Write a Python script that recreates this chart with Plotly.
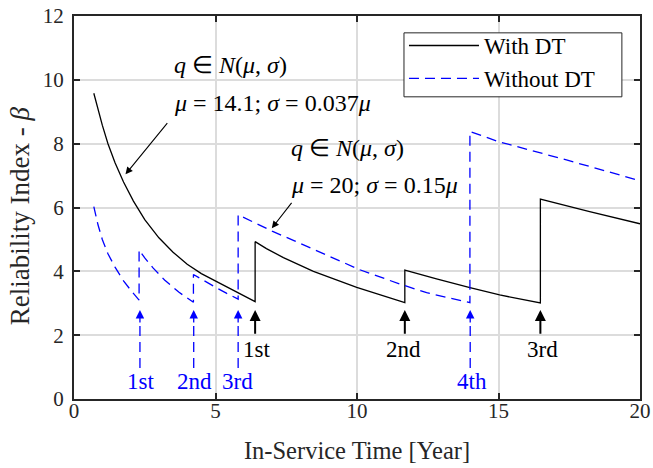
import plotly.graph_objects as go

# ---- data ----
with_dt_x = [0.70, 0.85, 1.00, 1.20, 1.45, 1.75, 2.10, 2.50, 3.00, 3.50, 4.00, 4.50, 5.00,
             5.50, 6.00, 6.40,
             6.40, 6.80, 7.40, 8.46, 9.99, 11.69,
             11.69, 12.81, 13.99, 15.04, 16.48,
             16.48, 18.22, 20.0]
with_dt_y = [9.58, 9.05, 8.58, 8.00, 7.40, 6.80, 6.20, 5.62, 5.05, 4.60, 4.22, 3.93, 3.70,
             3.45, 3.23, 3.05,
             4.93, 4.71, 4.43, 4.00, 3.50, 3.02,
             4.04, 3.76, 3.49, 3.26, 3.01,
             6.26, 5.87, 5.49]

without_dt_x = [0.70, 0.85, 1.00, 1.20, 1.45, 1.75, 2.05, 2.30,
                2.30, 2.50, 2.80, 3.20, 3.70, 4.22,
                4.22, 4.60, 5.00, 5.40, 5.80,
                5.80, 6.50, 7.00, 7.75, 8.93, 10.10, 11.52, 12.46, 13.99,
                13.99, 14.98, 17.40, 20.0]
without_dt_y = [6.03, 5.45, 5.00, 4.55, 4.13, 3.70, 3.36, 3.10,
                4.67, 4.42, 4.10, 3.73, 3.35, 3.03,
                3.90, 3.70, 3.50, 3.31, 3.13,
                5.77, 5.47, 5.26, 4.97, 4.50, 4.05, 3.60, 3.33, 3.02,
                8.38, 8.07, 7.49, 6.84]

# maintenance markers
dt_events_x = [6.40, 11.69, 16.48]
dt_labels = ["1st", "2nd", "3rd"]
dt_label_x = [6.45, 11.65, 16.56]
nodt_events_x = [2.33, 4.23, 5.80, 14.0]
nodt_labels = ["1st", "2nd", "3rd", "4th"]
nodt_label_x = [2.35, 4.25, 5.78, 14.08]

arrow_tip_y = 2.79
dt_arrow_tail_y = 2.0
dt_label_y = 1.54
nodt_shaft_bottom_y = 0.97
nodt_head_tail_y = 2.35
nodt_label_y = 0.55

x_ticks = [0, 5, 10, 15, 20]
y_ticks = [0, 2, 4, 6, 8, 10, 12]

FONT = "Liberation Serif"
INK = "#262626"
BLUE = "#0000ff"

fig = go.Figure()
fig.add_trace(go.Scatter(x=with_dt_x, y=with_dt_y, mode="lines", name="With DT",
                         line=dict(color="black", width=1.3)))
fig.add_trace(go.Scatter(x=without_dt_x, y=without_dt_y, mode="lines", name="Without DT",
                         line=dict(color=BLUE, width=1.3, dash="10px,6px")))

annotations = []
shapes = []
for xe, lab, lx in zip(dt_events_x, dt_labels, dt_label_x):
    annotations.append(dict(x=xe, y=arrow_tip_y, ax=xe, ay=dt_arrow_tail_y,
                            xref="x", yref="y", axref="x", ayref="y", text="",
                            showarrow=True, arrowhead=2, arrowsize=1.1, arrowwidth=2,
                            arrowcolor="black"))
    annotations.append(dict(x=lx, y=dt_label_y, xref="x", yref="y", text=lab,
                            showarrow=False, font=dict(family=FONT, size=23, color="black")))
for xe, lab, lx in zip(nodt_events_x, nodt_labels, nodt_label_x):
    shapes.append(dict(type="line", xref="x", yref="y", x0=xe, x1=xe,
                       y0=nodt_shaft_bottom_y, y1=nodt_head_tail_y,
                       line=dict(color=BLUE, width=1.3, dash="10px,6px")))
    annotations.append(dict(x=xe, y=arrow_tip_y, ax=xe, ay=nodt_head_tail_y,
                            xref="x", yref="y", axref="x", ayref="y", text="",
                            showarrow=True, arrowhead=2, arrowsize=1.3, arrowwidth=1.3,
                            arrowcolor=BLUE))
    annotations.append(dict(x=lx, y=nodt_label_y, xref="x", yref="y", text=lab,
                            showarrow=False, font=dict(family=FONT, size=23, color=BLUE)))

# text annotations with arrows
ANN = 24
annotations.append(dict(x=3.45, y=10.47, xref="x", yref="y", xanchor="left",
                        text="<i>q</i> ∈ <i>N</i>(<i>μ</i>, <i>σ</i>)", showarrow=False,
                        font=dict(family=FONT, size=ANN, color="black")))
annotations.append(dict(x=3.45, y=9.28, xref="x", yref="y", xanchor="left",
                        text="<i>μ</i> = 14.1; <i>σ</i> = 0.037<i>μ</i>", showarrow=False,
                        font=dict(family=FONT, size=ANN, color="black")))
annotations.append(dict(x=1.82, y=7.04, ax=3.34, ay=8.69, xref="x", yref="y",
                        axref="x", ayref="y", text="", showarrow=True, arrowhead=2,
                        arrowsize=1.3, arrowwidth=1.1, arrowcolor="black"))
annotations.append(dict(x=7.58, y=7.86, xref="x", yref="y", xanchor="left",
                        text="<i>q</i> ∈ <i>N</i>(<i>μ</i>, <i>σ</i>)", showarrow=False,
                        font=dict(family=FONT, size=ANN, color="black")))
annotations.append(dict(x=7.58, y=6.70, xref="x", yref="y", xanchor="left",
                        text="<i>μ</i> = 20; <i>σ</i> = 0.15<i>μ</i>", showarrow=False,
                        font=dict(family=FONT, size=ANN, color="black")))
annotations.append(dict(x=6.99, y=5.35, ax=7.73, ay=6.19, xref="x", yref="y",
                        axref="x", ayref="y", text="", showarrow=True, arrowhead=2,
                        arrowsize=1.3, arrowwidth=1.1, arrowcolor="black"))

# y-axis title placed as rotated text
annotations.append(dict(x=-0.095, y=0.478, xref="paper", yref="paper",
                        text="Reliability Index - <i>β</i>", textangle=-90, showarrow=False,
                        xanchor="center", yanchor="middle",
                        font=dict(family=FONT, size=27, color=INK)))

# legend frame
shapes.append(dict(type="rect", xref="paper", yref="paper", x0=0.583, x1=0.968,
                   y0=0.789, y1=0.956, fillcolor="white", layer="above",
                   line=dict(color=INK, width=1)))

axis_common = dict(showgrid=True, gridcolor="#dcdcdc", gridwidth=1.5,
                   showline=True, linecolor=INK, linewidth=2, mirror="ticks",
                   ticks="inside", ticklen=6, tickwidth=2, tickcolor=INK,
                   zeroline=False, automargin=False,
                   tickfont=dict(family=FONT, size=21, color=INK))

fig.update_layout(
    width=653, height=468,
    font=dict(family=FONT, size=21, color=INK),
    margin=dict(l=74, r=13, t=16, b=69),
    paper_bgcolor="white", plot_bgcolor="white",
    xaxis=dict(range=[0, 20], tickvals=x_ticks, ticklabelstandoff=-8, **axis_common,
               title=dict(text="In-Service Time [Year]", standoff=20,
                          font=dict(family=FONT, size=24.5, color=INK))),
    yaxis=dict(range=[0, 12], tickvals=y_ticks, ticklabelstandoff=4, **axis_common),
    legend=dict(x=0.583, y=0.979, xanchor="left", yanchor="top",
                bgcolor="rgba(0,0,0,0)", borderwidth=0, itemwidth=70,
                font=dict(family=FONT, size=23, color="black"),
                tracegroupgap=0),
    annotations=annotations, shapes=shapes, showlegend=True,
)

fig.write_html("out.html", post_script="document.body.style.margin='0';",
               config={"displayModeBar": False})
